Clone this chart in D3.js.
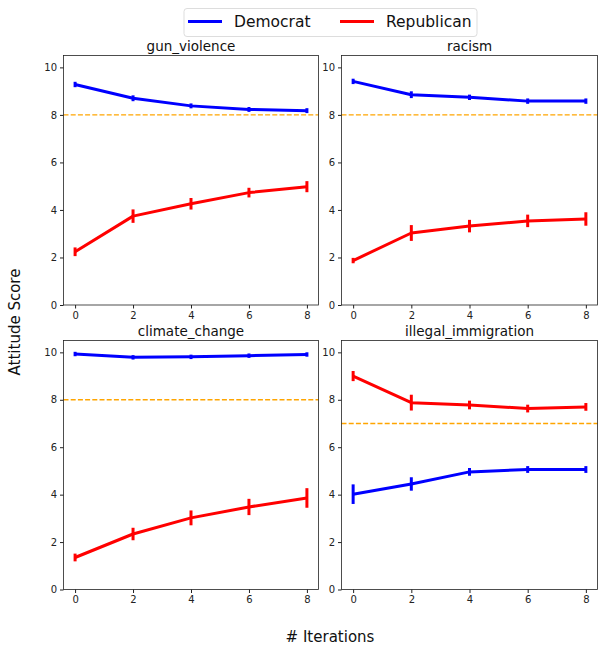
<!DOCTYPE html>
<html lang="en">
<head>
<meta charset="UTF-8">
<title>Attitude Score by Iteration</title>
<script src="https://d3js.org/d3.v7.min.js"></script>
<style>
    body { margin: 0; padding: 0; background: #fff; font-family: "DejaVu Sans", sans-serif; }
    .tick text { fill: #222; font-size: 10px; font-family: "DejaVu Sans", sans-serif; }
    .tick line { stroke: #222; }
</style>
</head>
<body>
<svg width="602" height="647"></svg>
<script>
    // Chart data
    const iterations = [0, 2, 4, 6, 8];
    const topics = ["gun_violence", "racism", "climate_change", "illegal_immigration"];
    const thresholds = [8, 8, 8, 7];

    const demMean = [
        [9.28, 8.70, 8.38, 8.23, 8.18],
        [9.41, 8.85, 8.74, 8.58, 8.58],
        [9.93, 9.79, 9.81, 9.86, 9.91],
        [4.02, 4.45, 4.96, 5.06, 5.06]
    ];
    const demErr = [
        [0.05, 0.06, 0.04, 0.04, 0.04],
        [0.05, 0.08, 0.05, 0.05, 0.05],
        [0.03, 0.03, 0.03, 0.03, 0.03],
        [0.35, 0.22, 0.10, 0.08, 0.08]
    ];
    const repMean = [
        [2.24, 3.74, 4.26, 4.73, 4.98],
        [1.87, 3.03, 3.32, 3.54, 3.62],
        [1.35, 2.34, 3.02, 3.48, 3.86],
        [9.00, 7.88, 7.78, 7.63, 7.70]
    ];
    const repErr = [
        [0.12, 0.22, 0.18, 0.14, 0.17],
        [0.05, 0.27, 0.20, 0.20, 0.22],
        [0.10, 0.20, 0.25, 0.28, 0.35],
        [0.15, 0.27, 0.12, 0.10, 0.10]
    ];
    const yTicks = [0, 2, 4, 6, 8, 10];
    const xTicks = [0, 2, 4, 6, 8];

    const svg = d3.select("svg");

    // panel boxes [left, top, right, bottom]
    const panels = [
        [63.5, 55.5, 318.5, 305],
        [341.5, 55.5, 597.5, 305],
        [63.5, 340.5, 318.5, 589.5],
        [341.5, 340.5, 597.5, 589.5]
    ];

    const series = [
        { name: "Democrat", color: "#0000ff", mean: demMean, err: demErr },
        { name: "Republican", color: "#ff0000", mean: repMean, err: repErr }
    ];

    topics.forEach((topic, i) => {
        const [l, t, r, b] = panels[i];
        const x = d3.scaleLinear().domain([-0.4, 8.4]).range([l, r]);
        const y = d3.scaleLinear().domain([0, 10.5]).range([b, t]);
        const g = svg.append("g");

        // axes
        g.append("g")
            .attr("transform", `translate(0,${b})`)
            .call(d3.axisBottom(x).tickValues(xTicks).tickSize(3.5).tickSizeOuter(0).tickPadding(3))
            .call(a => a.select(".domain").remove());
        g.append("g")
            .attr("transform", `translate(${l},0)`)
            .call(d3.axisLeft(y).tickValues(yTicks).tickSize(3.5).tickSizeOuter(0).tickPadding(3))
            .call(a => a.select(".domain").remove());

        // threshold line
        g.append("line")
            .attr("x1", l).attr("x2", r)
            .attr("y1", y(thresholds[i])).attr("y2", y(thresholds[i]))
            .attr("stroke", "orange")
            .attr("stroke-width", 1.4)
            .attr("stroke-dasharray", "5,2.2");

        series.forEach(s => {
            const pts = iterations.map((it, k) => ({ it, m: s.mean[i][k], e: s.err[i][k] }));
            g.append("path")
                .datum(pts)
                .attr("fill", "none")
                .attr("stroke", s.color)
                .attr("stroke-width", 3)
                .attr("stroke-linejoin", "round")
                .attr("d", d3.line().x(d => x(d.it)).y(d => y(d.m)));
            g.selectAll(null)
                .data(pts)
                .enter().append("line")
                .attr("x1", d => x(d.it)).attr("x2", d => x(d.it))
                .attr("y1", d => y(d.m - d.e) + 1.5).attr("y2", d => y(d.m + d.e) - 1.5)
                .attr("stroke", s.color)
                .attr("stroke-width", 3);
        });

        // frame
        g.append("rect")
            .attr("x", l).attr("y", t)
            .attr("width", r - l).attr("height", b - t)
            .attr("fill", "none")
            .attr("stroke", "#222")
            .attr("stroke-width", 0.8);

        // title
        g.append("text")
            .attr("x", (l + r) / 2)
            .attr("y", t - 5)
            .attr("text-anchor", "middle")
            .style("font-size", "13.5px")
            .attr("fill", "#111")
            .text(topic);
    });

    // axis labels
    svg.append("text")
        .attr("transform", "rotate(-90)")
        .attr("x", -322)
        .attr("y", 20)
        .attr("text-anchor", "middle")
        .style("font-size", "15px")
        .attr("fill", "#111")
        .text("Attitude Score");

    svg.append("text")
        .attr("x", 330)
        .attr("y", 642)
        .attr("text-anchor", "middle")
        .style("font-size", "15px")
        .attr("fill", "#111")
        .text("# Iterations");

    // legend
    const legend = svg.append("g");
    legend.append("rect")
        .attr("x", 184).attr("y", 8.5)
        .attr("width", 293).attr("height", 28)
        .attr("rx", 3)
        .attr("fill", "#fff")
        .attr("stroke", "#ddd")
        .attr("stroke-width", 1);
    const legX = [188, 340];
    series.forEach((s, k) => {
        legend.append("line")
            .attr("x1", legX[k]).attr("x2", legX[k] + 34)
            .attr("y1", 21.5).attr("y2", 21.5)
            .attr("stroke", s.color)
            .attr("stroke-width", 3);
        legend.append("text")
            .attr("x", legX[k] + 46)
            .attr("y", 27)
            .style("font-size", "15.5px")
            .attr("fill", "#111")
            .text(s.name);
    });
</script>
</body>
</html>
